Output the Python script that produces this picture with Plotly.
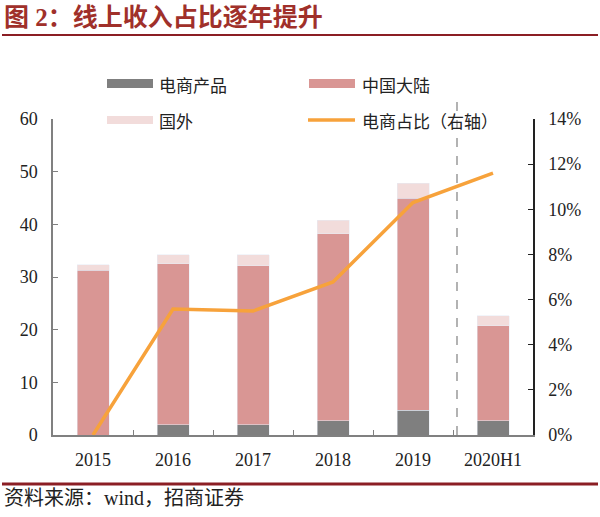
import plotly.graph_objects as go

categories = ["2015", "2016", "2017", "2018", "2019", "2020H1"]
ecommerce = [0.0, 1.9, 1.9, 2.7, 4.7, 2.7]
mainland = [31.3, 30.6, 30.2, 35.5, 40.3, 18.0]
overseas = [1.0, 1.7, 2.1, 2.6, 2.8, 1.9]
ecom_share = [0.0, 5.58, 5.49, 6.78, 10.3, 11.6]

left_ticks = [0, 10, 20, 30, 40, 50, 60]
right_ticks = [0, 2, 4, 6, 8, 10, 12, 14]

W, H = 600, 517
L, R, T, B = 53, 533, 119, 435

def px(x):
    return (x - L) / (R - L)

def py(y):
    return (B - y) / (B - T)

C_GRAY = "#7F7F7F"
C_RED = "#D99694"
C_LIGHT = "#F2DCDB"
C_ORANGE = "#F7A23B"
TITLE_C = "#A0302A"
LINE_C = "#8B1E24"

fig = go.Figure()
fig.add_bar(x=categories, y=ecommerce, name="电商产品", marker_color=C_GRAY, width=0.4)
fig.add_bar(x=categories, y=mainland, name="中国大陆", marker_color=C_RED, width=0.4)
fig.add_bar(x=categories, y=overseas, name="国外", marker_color=C_LIGHT, width=0.4)
fig.add_scatter(x=categories, y=ecom_share, name="电商占比（右轴）", mode="lines",
                line=dict(color=C_ORANGE, width=3.5), yaxis="y2")

serif = "Liberation Serif"
cjk = "Noto Sans CJK SC"
mixed = "Liberation Serif, Noto Sans CJK SC"

fig.update_layout(
    width=W, height=H, barmode="stack", showlegend=False,
    margin=dict(l=L, r=W - R, t=T, b=H - B),
    paper_bgcolor="white", plot_bgcolor="white",
    xaxis=dict(type="category", showline=True, linecolor="#808080", linewidth=1.5,
               ticks="inside", tickson="boundaries", ticklen=5, tickcolor="#808080",
               tickfont=dict(family=serif, size=18, color="#222"), ticklabelstandoff=8,
               showgrid=False, zeroline=False),
    yaxis=dict(range=[0, 60], tickvals=left_ticks, showline=True, linecolor="#808080",
               linewidth=1.5, ticks="inside", ticklen=5, tickcolor="#808080",
               tickfont=dict(family=serif, size=18, color="#222"), ticklabelstandoff=10,
               showgrid=False, zeroline=False),
    yaxis2=dict(range=[0, 14], tickvals=right_ticks, ticktext=[f"{v}%" for v in right_ticks],
                overlaying="y", side="right", showline=True, linecolor="#222", linewidth=1.5,
                ticks="inside", ticklen=5, tickcolor="#222",
                tickfont=dict(family=serif, size=18, color="#222"), ticklabelstandoff=10,
                showgrid=False, zeroline=False),
)

shapes = []
# dashed separator between 2019 and 2020H1
shapes.append(dict(type="line", xref="x", yref="paper", x0=4.55, x1=4.55, y0=0, y1=py(100),
                   line=dict(color="#808080", width=1.2, dash="dash")))
# title underline & source line
shapes.append(dict(type="line", xref="paper", yref="paper", x0=px(2), x1=px(598), y0=py(35), y1=py(35),
                   line=dict(color=LINE_C, width=2)))
shapes.append(dict(type="line", xref="paper", yref="paper", x0=px(2), x1=px(598), y0=py(484), y1=py(484),
                   line=dict(color=LINE_C, width=3)))
# legend swatches
shapes.append(dict(type="rect", xref="paper", yref="paper", x0=px(107), x1=px(153), y0=py(88), y1=py(79),
                   fillcolor=C_GRAY, line=dict(width=0)))
shapes.append(dict(type="rect", xref="paper", yref="paper", x0=px(309), x1=px(355), y0=py(88), y1=py(79),
                   fillcolor=C_RED, line=dict(width=0)))
shapes.append(dict(type="rect", xref="paper", yref="paper", x0=px(107), x1=px(153), y0=py(124), y1=py(116),
                   fillcolor=C_LIGHT, line=dict(width=0)))
shapes.append(dict(type="line", xref="paper", yref="paper", x0=px(308), x1=px(355), y0=py(120), y1=py(120),
                   line=dict(color=C_ORANGE, width=3.5)))
fig.update_layout(shapes=shapes)

ann = []
def text(x, y, s, size, color="#222", family=cjk, bold=False, xanchor="left"):
    if bold:
        s = f"<b>{s}</b>"
    ann.append(dict(xref="paper", yref="paper", x=px(x), y=py(y), text=s, showarrow=False,
                    xanchor=xanchor, yanchor="middle", font=dict(family=family, size=size, color=color)))

text(2, 17, "图 2：线上收入占比逐年提升", 25, TITLE_C, family=mixed, bold=True)
text(157, 84, "电商产品", 17)
text(360, 84, "中国大陆", 17)
text(157, 120, "国外", 17)
text(360, 120, "电商占比（右轴）", 17)
text(2, 498, "资料来源：wind，招商证券", 20, family=mixed)
fig.update_layout(annotations=ann)

fig.write_html("out.html")
